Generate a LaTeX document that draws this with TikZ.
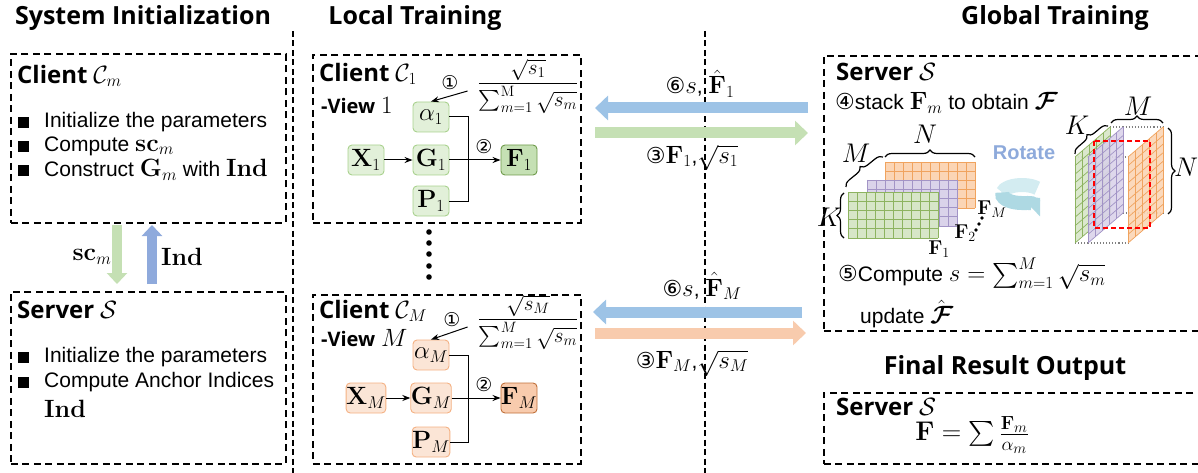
\RequirePackage{fix-cm}
\documentclass[tikz,border=0pt]{standalone}
\usepackage{amsmath}
\usepackage{bm}
\usepackage[no-math]{fontspec}
\setmainfont{Liberation Sans}
\newfontfamily\hd{Open Sans}
\newfontfamily\dv{DejaVu Sans}
\usetikzlibrary{arrows.meta,decorations.pathreplacing,calc}
\DeclareMathSizes{21}{25}{17}{13}
\DeclareMathSizes{18}{21}{15}{12}
\DeclareMathSizes{22}{27}{19}{15}
\DeclareMathSizes{17}{20}{14}{11}
\definecolor{grfill}{HTML}{E2F0D9}
\definecolor{grline}{HTML}{A9D18E}
\definecolor{grdark}{HTML}{C5E0B4}
\definecolor{grdline}{HTML}{6E9A4A}
\definecolor{orfill}{HTML}{FBE5D6}
\definecolor{orline}{HTML}{F4B183}
\definecolor{ordark}{HTML}{F8CBAD}
\definecolor{ordline}{HTML}{C0703A}
\definecolor{arblue}{HTML}{9DC3E6}
\definecolor{arblue2}{HTML}{8FAADC}
\definecolor{argreen}{HTML}{C5E0B4}
\definecolor{arorange}{HTML}{F8CBAD}
\definecolor{mgf}{HTML}{D7E6C8}
\definecolor{mgl}{HTML}{8DB360}
\definecolor{mpf}{HTML}{DAD3EA}
\definecolor{mpl}{HTML}{A294C6}
\definecolor{mof}{HTML}{FBD5B5}
\definecolor{mol}{HTML}{F0A35E}
\definecolor{ringc}{HTML}{AED9E3}
\definecolor{ringb}{HTML}{D3ECF1}
\definecolor{rotc}{HTML}{8EAADB}
\newcommand\bodyfs{\fontsize{21}{25}\selectfont}
\newcommand\hdfs{\hd\bfseries\fontsize{24}{28}\selectfont}
\newcommand\ttfs{\hd\bfseries\fontsize{25}{29}\selectfont}
\newcommand\mymat[3]{\begin{scope}[shift={#1}]
  \fill[#2] (0,0) rectangle (90,46);
  \foreach \i in {0,...,10}{\draw[#3,line width=0.8pt] (\i*9,0) -- (\i*9,46);}
  \foreach \j in {0,...,5}{\draw[#3,line width=0.8pt] (0,\j*9.2) -- (90,\j*9.2);}
  \end{scope}}
\newcommand\myslice[3]{\begin{scope}[shift={#1}]
  \fill[#2,opacity=0.9] (0,0) -- (35,-30) -- (35,56) -- (0,86) -- cycle;
  \foreach \i in {0,...,5}{\draw[#3,line width=0.7pt] (\i*7,-\i*6) -- (\i*7,86-\i*6);}
  \foreach \j in {0,...,10}{\draw[#3,line width=0.7pt] (0,\j*8.6) -- (35,\j*8.6-30);}
  \end{scope}}
\begin{document}
\begin{tikzpicture}[x=1pt,y=-1pt,
  dbox/.style={draw, line width=1.6pt, dash pattern=on 7pt off 4.5pt, inner sep=0pt},
  sepline/.style={line width=1.8pt, dash pattern=on 6pt off 3.5pt},
  vn/.style={rounded corners=4pt, minimum width=36pt, minimum height=30pt, inner sep=0pt, line width=0.9pt, font=\bodyfs},
  gn/.style={vn, fill=grfill, draw=grline},
  gk/.style={vn, fill=grdark, draw=grdline},
  orn/.style={vn, fill=orfill, draw=orline},
  ork/.style={vn, fill=ordark, draw=ordline},
  lk/.style={-{Stealth[length=8pt,width=6pt]}, line width=1pt},
  fat/.style={line width=11pt, -{Triangle[width=24pt,length=13pt]}},
  fats/.style={line width=10pt, -{Triangle[width=20pt,length=11pt]}},
  txt/.style={font=\bodyfs, inner sep=0pt, anchor=west},
  hdt/.style={font=\ttfs, inner sep=0pt},
  cnum/.style={font=\dv\fontsize{19}{19}\selectfont, inner sep=0pt},
  brc/.style={decorate, decoration={brace, amplitude=7pt}, line width=1.2pt},
  dimt/.style={font=\fontsize{22}{22}\selectfont, inner sep=0pt},
  fl/.style={font=\fontsize{17}{17}\selectfont, inner sep=0pt}]
\useasboundingbox (0,0) rectangle (1198,473);

% titles
\node[hdt] (t1) at (143,18) {System Initialization};
\node[hdt] (t2) at (415,18) {Local Training};
\node[hdt] (t3) at (1055,18) {Global Training};
\node[hdt] (t4) at (1005,368) {Final Result Output};

% separators
\coordinate (s1a) at (293,31); \coordinate (s1b) at (293,475);
\coordinate (s2a) at (705,31); \coordinate (s2b) at (705,475);
\draw[sepline] (s1a) -- (s1b);
\draw[sepline] (s2a) -- (s2b);

% ---------------- system initialization
\node[dbox, anchor=north west, minimum width=275pt, minimum height=169pt] (bcm) at (10,53) {};
\node[txt] (bcmT) at (17,76) {{\hdfs Client} $\mathcal{C}_m$};
\fill (18,117) rectangle (29,128);
\fill (18,141) rectangle (29,152);
\fill (18,165) rectangle (29,176);
\node[txt] (l1) at (44,122) {Initialize the parameters};
\node[txt] (l2) at (44,146) {Compute $\mathbf{sc}_m$};
\node[txt] (l3) at (44,170) {Construct $\mathbf{G}_m$ with $\mathbf{Ind}$};

\node[dbox, anchor=north west, minimum width=275pt, minimum height=172pt] (bsv) at (10,291) {};
\node[txt] (bsvT) at (17,310) {{\hdfs Server} $\mathcal{S}$};
\fill (18,352) rectangle (29,363);
\fill (18,377) rectangle (29,388);
\node[txt] (l4) at (44,357) {Initialize the parameters};
\node[txt] (l5) at (44,382) {Compute Anchor Indices};
\node[txt] (l6) at (44,409) {$\mathbf{Ind}$};

\coordinate (ga) at (117,225); \coordinate (gb) at (117,284);
\coordinate (ba) at (152,284); \coordinate (bb) at (152,225);
\draw[fats, argreen] (ga) -- (gb);
\draw[fats, arblue2] (ba) -- (bb);
\node[txt, anchor=center] (scl) at (92,257) {$\mathbf{sc}_m$};
\node[txt, anchor=center] (indl) at (182,257) {$\mathbf{Ind}$};

% ---------------- local client 1
\node[dbox, anchor=north west, minimum width=268pt, minimum height=168pt] (lc1) at (312,54) {};
\node[txt] (lc1T) at (319,74) {{\hdfs Client} $\mathcal{C}_1$};
\node[txt] (lc1V) at (321,106) {{\hd\bfseries\fontsize{20}{22}\selectfont -View} $1$};
\node[gn] (a1) at (431,117) {$\alpha_1$};
\node[gn] (g1) at (431,160) {$\mathbf{G}_1$};
\node[gn] (p1) at (431,201) {$\mathbf{P}_1$};
\node[gn] (x1) at (366,160) {$\mathbf{X}_1$};
\node[gk] (f1) at (519,160) {$\mathbf{F}_1$};
\draw[lk] (x1) -- (g1);
\draw[line width=1pt] (a1.east) -- ++(19,0) |- (p1.east);
\draw[lk] (g1) -- (f1);
\node[cnum] (c1a) at (450,83) {①};
\node[cnum] (c1b) at (484,147) {②};
\node[inner sep=0pt, font=\fontsize{18}{20}\selectfont] (fr1) at (528,86) {$\dfrac{\sqrt{s_1}}{\sum_{m=1}^{\mathrm{M}}\sqrt{s_m}}$};
\draw[lk] ($(fr1.west)+(-10,5)$) -- (a1.north);

% dots
\foreach \yy in {232,243,254,266,277} \fill (429,\yy) circle (2.8pt);

% ---------------- local client M
\node[dbox, anchor=north west, minimum width=268pt, minimum height=169pt] (lcm) at (312,294) {};
\node[txt] (lcmT) at (319,311) {{\hdfs Client} $\mathcal{C}_M$};
\node[txt] (lcmV) at (321,338) {{\hd\bfseries\fontsize{20}{22}\selectfont -View} $M$};
\node[orn] (am) at (431,355) {$\alpha_M$};
\node[orn] (gm) at (431,398) {$\mathbf{G}_M$};
\node[orn] (pm) at (431,442) {$\mathbf{P}_M$};
\node[orn] (xm) at (366,398) {$\mathbf{X}_M$};
\node[ork] (fm) at (519,398) {$\mathbf{F}_M$};
\draw[lk] (xm) -- (gm);
\draw[line width=1pt] (am.east) -- ++(19,0) |- (pm.east);
\draw[lk] (gm) -- (fm);
\node[cnum] (cma) at (452,320) {①};
\node[cnum] (cmb) at (484,385) {②};
\node[inner sep=0pt, font=\fontsize{18}{20}\selectfont] (frm) at (528,322) {$\dfrac{\sqrt{s_M}}{\sum_{m=1}^{M}\sqrt{s_m}}$};
\draw[lk] ($(frm.west)+(-10,5)$) -- (am.north);

% ---------------- big arrows
\coordinate (u1a) at (808,108); \coordinate (u1b) at (595,108);
\coordinate (u2a) at (595,133); \coordinate (u2b) at (808,133);
\coordinate (d1a) at (802,312); \coordinate (d1b) at (593,312);
\coordinate (d2a) at (595,333); \coordinate (d2b) at (806,333);
\draw[fat, arblue] (u1a) -- (u1b);
\draw[fat, argreen] (u2a) -- (u2b);
\draw[fat, arblue] (d1a) -- (d1b);
\draw[fat, arorange] (d2a) -- (d2b);
\node[txt, anchor=center] (lb1) at (700,84) {{\dv\fontsize{22}{22}\selectfont ⑥}$s$, $\hat{\mathbf{F}}_1$};
\node[txt, anchor=center] (lb2) at (692,158) {{\dv\fontsize{22}{22}\selectfont ③}$\mathbf{F}_1$,$\sqrt{s_1}$};
\node[txt, anchor=center] (lb3) at (702,286) {{\dv\fontsize{22}{22}\selectfont ⑥}$s$, $\hat{\mathbf{F}}_M$};
\node[txt, anchor=center] (lb4) at (692,363) {{\dv\fontsize{22}{22}\selectfont ③}$\mathbf{F}_M$,$\sqrt{s_M}$};

% ---------------- global server
\node[dbox, anchor=north west, minimum width=385pt, minimum height=275pt] (gsv) at (823,55) {};
\node[txt] (gsvT) at (836,72) {{\hdfs Server} $\mathcal{S}$};
\node[txt] (st4) at (835,103) {{\dv\fontsize{22}{22}\selectfont ④}stack $\mathbf{F}_m$ to obtain $\bm{\mathcal{F}}$};

% stacked matrices
\mymat{(885,162)}{mof}{mol}
\mymat{(867,180)}{mpf}{mpl}
\mymat{(848,192)}{mgf}{mgl}
\draw[brc] (885,157) -- (975,157);
\node[dimt] (nN1) at (925,134) {$N$};
\draw[brc] (846,187) -- (883,157);
\node[dimt] (nM1) at (856,153) {$M$};
\draw[brc] (844,238) -- (844,193);
\node[dimt] (nK1) at (829,217) {$K$};
\node[fl] (fl1) at (939,249) {$\mathbf{F}_1$};
\node[fl] (fl2) at (965,233) {$\mathbf{F}_2$};
\node[fl] (flm) at (992,209) {$\mathbf{F}_M$};
\fill (976,230) circle (1.8pt) (979,224) circle (1.8pt) (982,218) circle (1.8pt);

% rotate
\node[inner sep=0pt, font=\bfseries\fontsize{20}{22}\selectfont, text=rotc] (rot) at (1024,153) {Rotate};
\draw[line width=14pt, ringb] (1022,194) ++(-40:20 and 9) arc[start angle=-40, end angle=-170, x radius=20, y radius=9];
\draw[line width=14pt, ringc, -{Triangle[width=26pt,length=13pt]}] (1022,194) ++(-170:20 and 9) arc[start angle=-170, end angle=-335, x radius=20, y radius=9];

% cube
\draw[gray, dotted, line width=1.1pt] (1075,157) -- (1128,157) (1075,243) -- (1128,243) (1110,127) -- (1163,127) (1110,213) -- (1163,213);
\myslice{(1075,157)}{mgf}{mgl}
\myslice{(1088,157)}{mpf}{mpl}
\myslice{(1128,157)}{mof}{mol}
\draw[red, line width=1.5pt, dash pattern=on 5pt off 3pt] (1094,141) rectangle (1150,228);
\draw[brc] (1075,154) -- (1108,126);
\node[dimt] (nK2) at (1077,125) {$K$};
\draw[brc] (1111,123) -- (1163,123);
\node[dimt] (nM2) at (1138,106) {$M$};
\draw[brc] (1168,128) -- (1168,214);
\node[dimt] (nN2) at (1186,167) {$N$};

\node[txt] (st5) at (838,274) {{\dv\fontsize{22}{22}\selectfont ⑤}Compute $s=\sum_{m=1}^{M}\sqrt{s_m}$};
\node[txt] (st5b) at (860,314) {update $\hat{\bm{\mathcal{F}}}$};

% ---------------- final
\node[dbox, anchor=north west, minimum width=385pt, minimum height=71pt] (fin) at (823,392) {};
\node[txt] (finT) at (836,407) {{\hdfs Server} $\mathcal{S}$};
\node[inner sep=0pt, font=\fontsize{22}{24}\selectfont] (form) at (972,435) {$\mathbf{F}=\sum\frac{\mathbf{F}_m}{\alpha_m}$};
\end{tikzpicture}
\end{document}
